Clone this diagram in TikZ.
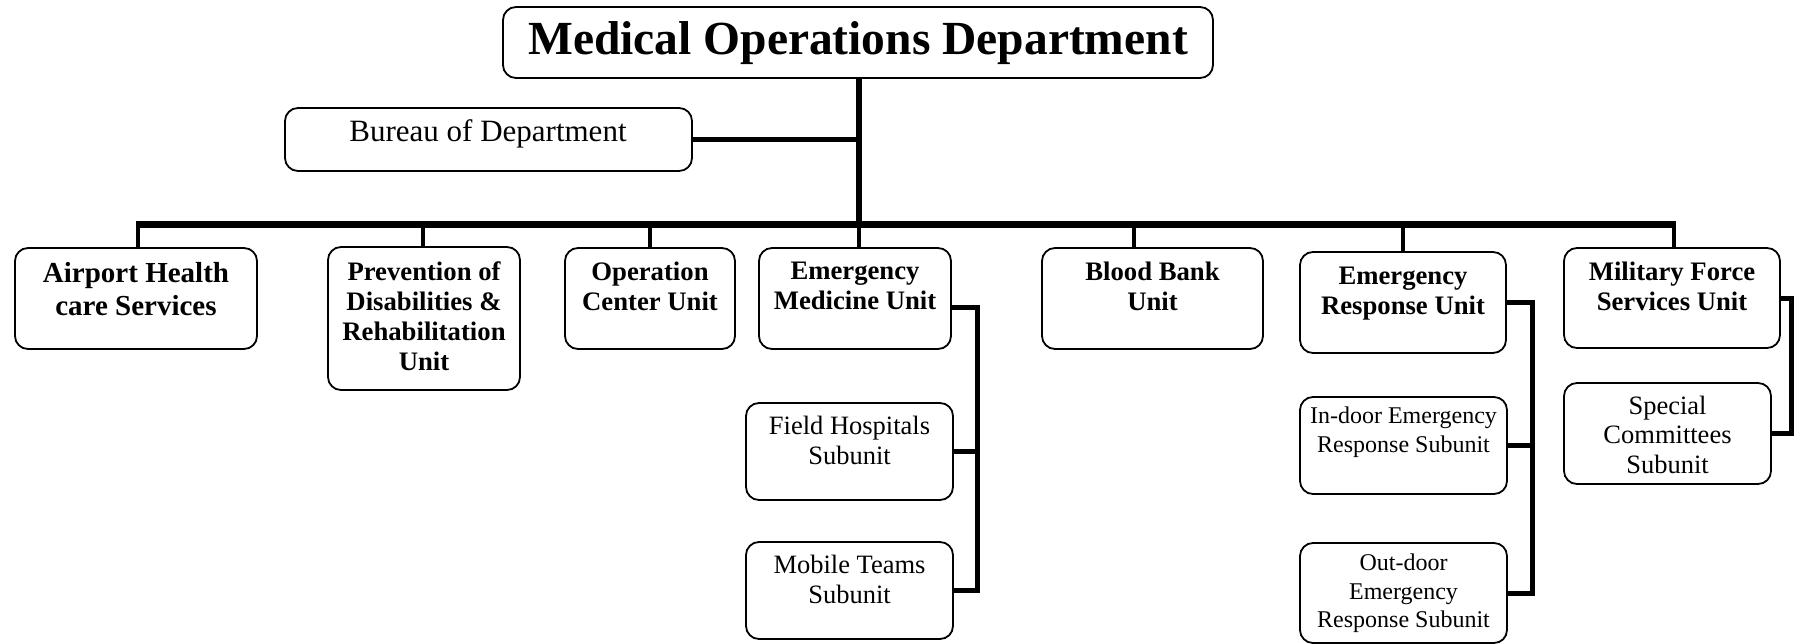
\documentclass[tikz,border=0pt]{standalone}
\usepackage{fontspec}
\setmainfont{Liberation Serif}
\begin{document}
\begin{tikzpicture}[x=1bp,y=-1bp,
  box/.style={draw, line width=1.8bp, rounded corners=13bp, inner sep=0pt},
  ttl/.style={font=\fontsize{47.5bp}{50bp}\selectfont\bfseries, inner sep=0pt},
  bur/.style={font=\fontsize{31bp}{34bp}\selectfont, inner sep=0pt},
  lone/.style={font=\fontsize{26.7bp}{30.3bp}\selectfont\bfseries, align=center, inner sep=0pt, anchor=north},
  lair/.style={font=\fontsize{29bp}{33bp}\selectfont\bfseries, align=center, inner sep=0pt, anchor=north},
  lsub/.style={font=\fontsize{26.5bp}{30bp}\selectfont, align=center, inner sep=0pt, anchor=north},
  lsml/.style={font=\fontsize{24bp}{28.5bp}\selectfont, align=center, inner sep=0pt, anchor=north},
  trunk/.style={line width=6bp},
  barline/.style={line width=7bp},
  drop/.style={line width=4.5bp},
  sub/.style={line width=5bp}]
\useasboundingbox (0,0) rectangle (1794,644);

% title
\node[box, minimum width=710bp, minimum height=71bp] (md) at (858,42.5) {};
\node[ttl, anchor=base] (md-t) at (858,55) {Medical Operations Department};

% bureau
\node[box, minimum width=407bp, minimum height=63bp] (bur) at (488.5,139.5) {};
\node[bur, anchor=base] (bur-t) at (488,142) {Bureau of Department};

% level 1 boxes
\node[box, minimum width=242bp, minimum height=101bp] (air) at (136,298.5) {};
\node[box, minimum width=192bp, minimum height=143bp] (prev) at (424,318.5) {};
\node[box, minimum width=170bp, minimum height=101bp] (opc) at (650,298.5) {};
\node[box, minimum width=192bp, minimum height=101bp] (emu) at (855,298.5) {};
\node[box, minimum width=221bp, minimum height=101bp] (bbu) at (1152.5,298.5) {};
\node[box, minimum width=206bp, minimum height=101bp] (eru) at (1403,302.5) {};
\node[box, minimum width=216bp, minimum height=100bp] (mfu) at (1672,298) {};

\node[lair] (air-t) at (136,262.3) {Airport Health\\care Services};
\node[lone] (prev-t) at (424,261) {Prevention of\\Disabilities \&\\Rehabilitation\\Unit};
\node[lone] (opc-t) at (650,261.5) {Operation\\Center Unit};
\node[lone] (emu-t) at (855,261.5) {Emergency\\Medicine Unit};
\node[lone] (bbu-t) at (1152.5,261.5) {Blood Bank\\Unit};
\node[lone] (eru-t) at (1403,266.5) {Emergency\\Response Unit};
\node[lone] (mfu-t) at (1672,261.5) {Military Force\\Services Unit};

% sub boxes
\node[box, minimum width=207bp, minimum height=97bp] (fh) at (849.5,451.5) {};
\node[box, minimum width=207bp, minimum height=97bp] (mt) at (849.5,590.5) {};
\node[box, minimum width=207bp, minimum height=97bp] (id) at (1403.5,445.5) {};
\node[box, minimum width=207bp, minimum height=100bp] (od) at (1403.5,593) {};
\node[box, minimum width=207bp, minimum height=101bp] (sc) at (1667.5,433.5) {};

\node[lsub] (fh-t) at (849.5,415.5) {Field Hospitals\\Subunit};
\node[lsub] (mt-t) at (849.5,554.5) {Mobile Teams\\Subunit};
\node[lsml] (id-t) at (1403.5,407) {In-door Emergency\\Response Subunit};
\node[lsml] (od-t) at (1403.5,554) {Out-door\\Emergency\\Response Subunit};
\node[lsub, font=\fontsize{26.5bp}{29.5bp}\selectfont] (sc-t) at (1667.5,395.5) {Special\\Committees\\Subunit};

% junctions
\coordinate (barL) at (136,224.5);
\coordinate (barR) at (1676,224.5);
\coordinate (tj) at (859,224.5);
\coordinate (emj) at (977,307);
\coordinate (erj) at (1532,302);
\coordinate (mfj) at (1791,298);

% trunk and bar
\draw[trunk] (md.south -| tj) -- (tj);
\draw[sub] (bur.east) -- (bur.east -| tj);
\draw[barline] (barL) -- (barR);
\draw[drop] (air.north -| 138,0) -- (138,224.5);
\draw[drop] (prev.north -| 423,0) -- (423,224.5);
\draw[drop] (opc.north) -- (opc.north |- tj);
\draw[drop] (emu.north -| tj) -- (tj);
\draw[drop] (bbu.north -| 1134,0) -- (1134,224.5);
\draw[drop] (eru.north) -- (eru.north |- tj);
\draw[drop] (mfu.north -| 1674,0) -- (1674,224.5);

% sub connectors
\draw[sub] (emu.east |- emj) -- (emj) |- (mt.east);
\draw[sub] (fh.east) -- (fh.east -| emj);
\draw[sub] (eru.east |- erj) -- (erj) |- (od.east);
\draw[sub] (id.east) -- (id.east -| erj);
\draw[sub] (mfu.east |- mfj) -- (mfj) |- (sc.east);
\end{tikzpicture}
\end{document}
